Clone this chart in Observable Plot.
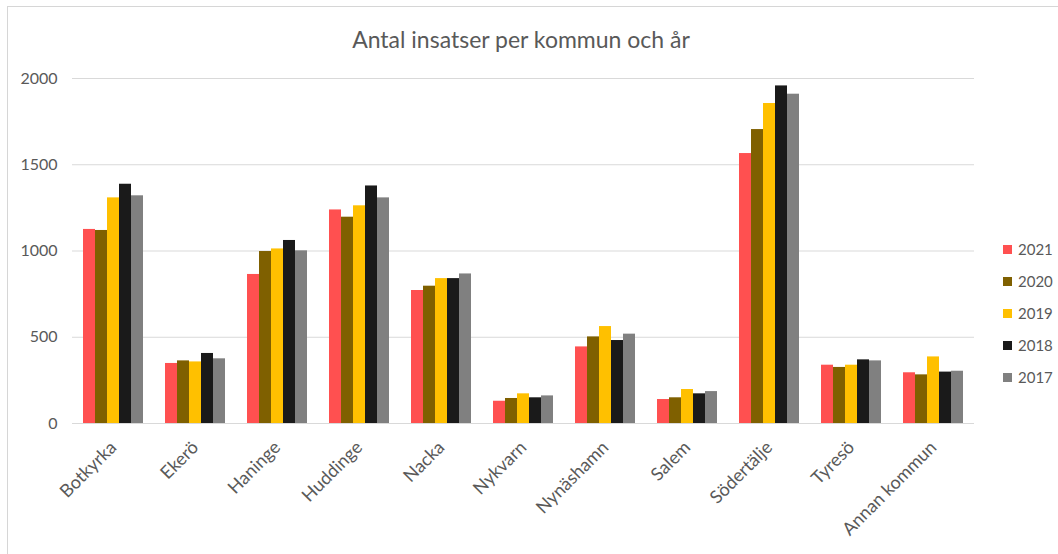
<!DOCTYPE html>
<html>
<head>
<meta charset="utf-8">
<script src="https://cdn.jsdelivr.net/npm/d3@7"></script>
<script src="https://cdn.jsdelivr.net/npm/@observablehq/plot@0.6"></script>
<style>
  html, body { margin: 0; padding: 0; background: #fff; }
  #wrap { position: relative; width: 1058px; height: 554px; overflow: hidden; font-family: Lato, "Liberation Sans", sans-serif; }
  #frame { position: absolute; left: 7px; top: 6px; right: -5px; bottom: -5px; border-left: 1.5px solid #d6d6d6; border-top: 1.5px solid #d6d6d6; }
  #title { position: absolute; left: 0; width: 1042px; top: 25px; text-align: center; font-size: 23px; color: #595959; }
  .layer { position: absolute; left: 0; top: 0; }
  #legend { position: absolute; left: 1003px; top: 233px; }
  .item { display: flex; align-items: center; height: 32px; font-size: 15px; color: #595959; }
  .sw { width: 9px; height: 9px; margin-right: 6px; }
</style>
</head>
<body>
<div id="wrap">
  <div id="frame"></div>
  <div id="title">Antal insatser per kommun och år</div>
  <div id="bg" class="layer"></div>
  <div id="fg" class="layer"></div>
  <div id="legend"></div>
</div>
<script>
const kommuner = ["Botkyrka","Ekerö","Haninge","Huddinge","Nacka","Nykvarn","Nynäshamn","Salem","Södertälje","Tyresö","Annan kommun"];
const years = ["2021","2020","2019","2018","2017"];
const colors = ["#FF5050","#7F6000","#FFC000","#1A1A1A","#808080"];
const v2021 = [1125,348,864,1238,771,129,444,139,1565,338,294];
const v2020 = [1119,363,997,1196,796,145,502,149,1704,325,282];
const v2019 = [1308,357,1012,1262,840,172,562,197,1855,338,386];
const v2018 = [1387,406,1061,1377,840,149,481,172,1957,369,298];
const v2017 = [1320,375,1001,1308,867,160,518,185,1909,363,303];
const yTicks = [0,500,1000,1500,2000];

const series = [v2021, v2020, v2019, v2018, v2017];
const data = [];
kommuner.forEach((k, i) => years.forEach((yr, j) => data.push({kommun: k, year: yr, value: series[j][i]})));

const common = {
  width: 1058, height: 554,
  marginTop: 78, marginBottom: 131, marginLeft: 72, marginRight: 84,
  style: {fontFamily: "Lato, 'Liberation Sans', sans-serif", fontSize: "15px", color: "#595959", background: "transparent", overflow: "visible"}
};

const bg = Plot.plot({
  ...common,
  y: {domain: [0, 2000], ticks: yTicks, label: null},
  marks: [
    Plot.ruleY(yTicks, {stroke: "#d9d9d9", strokeWidth: 1.2}),
    Plot.axisY(yTicks, {tickSize: 0, tickPadding: 15, label: null, fontSize: 16, tickFormat: d => String(d), fill: "#595959"})
  ]
});
document.getElementById("bg").append(bg);

const fg = Plot.plot({
  ...common,
  fx: {domain: kommuner, paddingInner: 0.24, paddingOuter: 0.12, label: null, axis: null},
  x: {domain: years, padding: 0, axis: null},
  y: {domain: [0, 2000], axis: null},
  color: {domain: years, range: colors},
  marks: [
    Plot.barY(data, {fx: "kommun", x: "year", y: "value", fill: "year", inset: 0}),
    Plot.axisFx({anchor: "bottom", tickRotate: -45, tickSize: 0, tickPadding: 21, label: null, fontSize: 18, fill: "#595959"})
  ]
});
document.getElementById("fg").append(fg);

const legend = document.getElementById("legend");
years.forEach((yr, j) => {
  const it = document.createElement("div");
  it.className = "item";
  const sw = document.createElement("span");
  sw.className = "sw";
  sw.style.background = colors[j];
  const lb = document.createElement("span");
  lb.textContent = yr;
  it.append(sw, lb);
  legend.append(it);
});
</script>
</body>
</html>
